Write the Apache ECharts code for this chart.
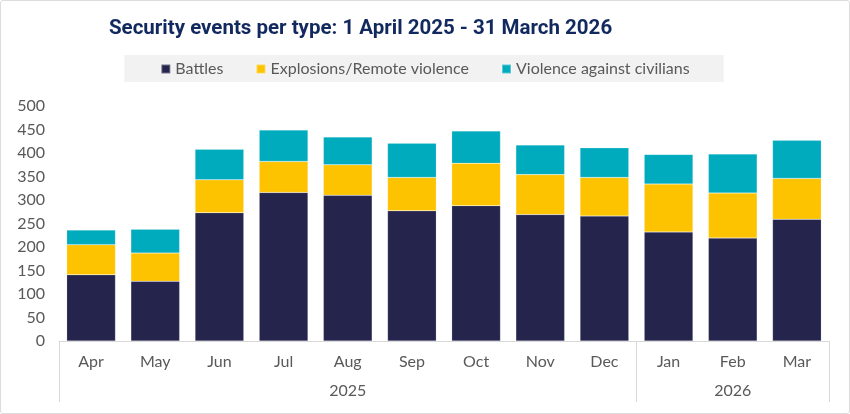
<!DOCTYPE html>
<html>
<head>
<meta charset="utf-8">
<script src="https://cdn.jsdelivr.net/npm/echarts@6/dist/echarts.min.js"></script>
<style>
    html, body { margin: 0; padding: 0; background: #fff; }
    #chart {
        width: 848px; height: 412px;
        border: 1px solid #dcdcdc; border-radius: 3px;
    }
</style>
</head>
<body>
<div id="chart"></div>
<script>
"use strict"

var months = ["Apr", "May", "Jun", "Jul", "Aug", "Sep", "Oct", "Nov", "Dec", "Jan", "Feb", "Mar"];
// year row, label sits under the middle month of each year
var years = ["", "", "", "", "2025", "", "", "", "", "", "2026", ""];
var yearStarts = [0, 9];

var battles = [141, 127, 273, 316, 310, 277, 288, 269, 266, 232, 219, 259];
var explosions = [64, 60, 70, 66, 65, 71, 90, 85, 82, 102, 96, 87];
var civilians = [31, 51, 65, 67, 59, 73, 69, 63, 63, 63, 83, 81];

var seriesNames = ["Battles", "Explosions/Remote violence", "Violence against civilians"];
var colorList = ["#25244c", "#fdc300", "#00abbd"];

function drawChart(target){
    var chart = echarts.init(document.getElementById(target));
    var font = "Lato, 'Open Sans', sans-serif";
    var grey = "#595959";
    var lineColor = "#d9d9d9";

    var dataList = [battles, explosions, civilians];
    var series = [];
    for(let i = 0; i < seriesNames.length; i++){
        series.push({
            name: seriesNames[i],
            type: 'bar',
            stack: 'total',
            barWidth: '76%',
            itemStyle: {
                color: colorList[i],
                borderColor: 'rgba(255,255,255,0.35)',
                borderWidth: 0.5
            },
            data: dataList[i]
        });
    }

    var option = {
        animation: false,
        color: colorList,
        textStyle: { fontFamily: font },
        title: {
            text: "Security events per type: 1 April 2025 - 31 March 2026",
            left: 108,
            top: 17,
            padding: 0,
            textStyle: {
                fontFamily: "Roboto, sans-serif",
                fontSize: 20.5,
                fontWeight: 'bold',
                color: '#12295f'
            }
        },
        legend: {
            left: 'center',
            top: 54,
            backgroundColor: '#f2f2f2',
            padding: [6, 34, 5, 36],
            itemGap: 32,
            itemWidth: 9,
            itemHeight: 9,
            icon: 'rect',
            textStyle: { fontSize: 16, color: grey, fontFamily: font },
            data: seriesNames
        },
        grid: {
            left: 58,
            right: 20,
            top: 105,
            bottom: 72
        },
        xAxis: [
            {
                type: 'category',
                data: months,
                axisLine: { lineStyle: { color: lineColor } },
                axisTick: { show: false },
                axisLabel: { color: grey, fontSize: 16, margin: 13, fontFamily: font }
            },
            {
                type: 'category',
                position: 'bottom',
                offset: 0,
                data: years,
                axisLine: { show: false },
                axisTick: {
                    show: true,
                    length: 61,
                    lineStyle: { color: lineColor },
                    interval: function(index){ return yearStarts.indexOf(index) >= 0; }
                },
                axisLabel: { color: grey, fontSize: 16, margin: 42, interval: 0, fontFamily: font }
            }
        ],
        yAxis: {
            type: 'value',
            min: 0,
            max: 500,
            interval: 50,
            splitLine: { show: false },
            axisLine: { show: false },
            axisTick: { show: false },
            axisLabel: { color: grey, fontSize: 16, margin: 14, fontFamily: font }
        },
        series: series
    };
    chart.setOption(option);
}

drawChart("chart");
</script>
</body>
</html>
